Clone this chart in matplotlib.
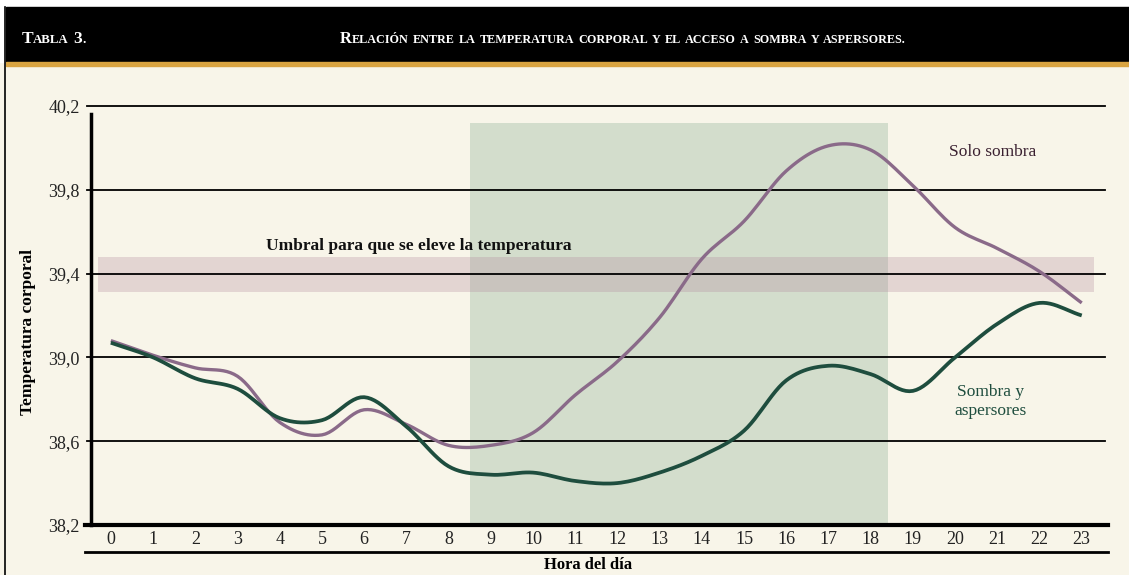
import matplotlib.pyplot as plt
import numpy as np
from matplotlib.patches import Rectangle
from matplotlib.lines import Line2D

plt.rcParams['font.family'] = ['Liberation Serif', 'DejaVu Serif']

hours = list(range(24))
solo_sombra = [39.08, 39.01, 38.95, 38.91, 38.69, 38.63, 38.75, 38.68, 38.58, 38.58, 38.64, 38.82,
               38.98, 39.19, 39.47, 39.65, 39.89, 40.01, 39.99, 39.82, 39.62, 39.52, 39.41, 39.26]
sombra_aspersores = [39.07, 39.00, 38.90, 38.85, 38.71, 38.70, 38.81, 38.67, 38.48, 38.44, 38.45, 38.41,
                     38.40, 38.45, 38.53, 38.65, 38.89, 38.96, 38.92, 38.84, 39.00, 39.16, 39.26, 39.20]
y_ticks = [38.2, 38.6, 39.0, 39.4, 39.8, 40.2]
y_ticklabels = ['38,2', '38,6', '39,0', '39,4', '39,8', '40,2']
umbral = (39.31, 39.48)
periodo_calor = (8.5, 18.4)

BG = '#f8f5e9'
PURPLE = '#8a6a89'
GREEN = '#1e4d3e'


def smooth(x, y, n=12):
    # catmull-rom, only for drawing the curve through the hourly values
    x = np.asarray(x, float)
    y = np.asarray(y, float)
    xp = np.concatenate([[2 * x[0] - x[1]], x, [2 * x[-1] - x[-2]]])
    yp = np.concatenate([[2 * y[0] - y[1]], y, [2 * y[-1] - y[-2]]])
    t = np.linspace(0, 1, n, endpoint=False)
    xs, ys = [], []
    for i in range(len(x) - 1):
        for p, out in ((xp, xs), (yp, ys)):
            p0, p1, p2, p3 = p[i:i + 4]
            out.extend(0.5 * (2 * p1 + (-p0 + p2) * t + (2 * p0 - 5 * p1 + 4 * p2 - p3) * t ** 2
                              + (-p0 + 3 * p1 - 3 * p2 + p3) * t ** 3))
    xs.append(x[-1])
    ys.append(y[-1])
    return np.array(xs), np.array(ys)


def small_caps(fig, x, y, text, size, space=0.28, **kw):
    renderer = fig.canvas.get_renderer()
    W = fig.get_figwidth() * fig.dpi
    first = True
    for word in text.split(' '):
        # split word in runs of capitals / lowercase
        runs = []
        for i, ch in enumerate(word):
            big = (first and i == 0) or ch.isdigit()
            if runs and runs[-1][1] == big:
                runs[-1][0] += ch
            else:
                runs.append([ch, big])
        for s, big in runs:
            t = fig.text(x, y, s.upper(), fontsize=size if big else size * 0.74,
                         va='baseline', ha='left', **kw)
            x += t.get_window_extent(renderer).width / W
        x += size * space * fig.dpi / 72 / W
        first = False


fig = plt.figure(figsize=(11.29, 5.75), dpi=100, facecolor=BG)

# header band
fig.patches.append(Rectangle((0, 0.892), 1, 0.108, transform=fig.transFigure, color='white', zorder=0))
fig.patches.append(Rectangle((0.005, 0.892), 0.995, 0.096, transform=fig.transFigure, color='black', zorder=1))
fig.patches.append(Rectangle((0.005, 0.886), 0.995, 0.007, transform=fig.transFigure, color='#d9a441', zorder=1))
fig.lines.append(Line2D([0.0045, 0.0045], [0, 0.988], transform=fig.transFigure, color='black', lw=1.2))

small_caps(fig, 0.019, 0.925, 'Tabla 3.', 12.5, color='white', fontweight='bold')
small_caps(fig, 0.301, 0.925, 'Relación entre la temperatura corporal y el acceso a sombra y aspersores.',
           11.8, space=0.25, color='white', fontweight='bold')

ax = fig.add_axes([0.0806, 0.087, 0.8981, 0.7287])
ax.set_facecolor(BG)
ax.set_xlim(-0.47, 23.55)
ax.set_ylim(38.2, 40.2)

ax.fill_between(list(periodo_calor), 38.2, 40.12, color='#d3ddcc', lw=0, zorder=1)
ax.fill_between([-0.3, 23.3], umbral[0], umbral[1], color='#b38ca0', alpha=0.3, lw=0, zorder=2)

for v in y_ticks[1:]:
    ax.axhline(v, xmin=-0.004, xmax=1, color='black', lw=1.3, clip_on=False, zorder=3)

xs, ys = smooth(hours, solo_sombra)
ax.plot(xs, ys, color=PURPLE, lw=2.4, zorder=4, solid_capstyle='butt')
xs, ys = smooth(hours, sombra_aspersores)
ax.plot(xs, ys, color=GREEN, lw=2.7, zorder=5, solid_capstyle='butt')

for s in ['top', 'right', 'bottom']:
    ax.spines[s].set_visible(False)
ax.spines['left'].set_linewidth(2.5)
ax.spines['left'].set_bounds(38.2, 40.16)
ax.axhline(38.2, xmin=-0.006, xmax=1.003, color='black', lw=3, clip_on=False, zorder=6)
ax.plot([-0.006, 1.003], [-0.064, -0.064], transform=ax.transAxes, color='black', lw=2,
        clip_on=False)

ax.set_yticks(y_ticks)
ax.set_yticklabels(y_ticklabels)
ax.set_xticks(hours)
ax.tick_params(axis='both', length=0, labelsize=13, colors='#222222')
ax.tick_params(axis='y', pad=8)
ax.tick_params(axis='x', pad=4)

ax.set_ylabel('Temperatura corporal', fontsize=12.5, fontweight='bold')
ax.yaxis.set_label_coords(-0.054, 0.46)
ax.set_xlabel('Hora del día', fontsize=12, fontweight='bold', va='center')
ax.xaxis.set_label_coords(0.49, -0.095)

ax.text(7.3, 39.53, 'Umbral para que se eleve la temperatura', fontsize=12.5, fontweight='bold',
        ha='center', va='center', color='#111111', zorder=7)
ax.text(20.9, 39.98, 'Solo sombra', fontsize=12.5, ha='center', va='center', color='#3a2030', zorder=7)
ax.text(20.85, 38.79, 'Sombra y\naspersores', fontsize=12.5, ha='center', va='center', color=GREEN,
        linespacing=1.3, zorder=7)

fig.savefig('out.png', dpi=100, facecolor=BG)
